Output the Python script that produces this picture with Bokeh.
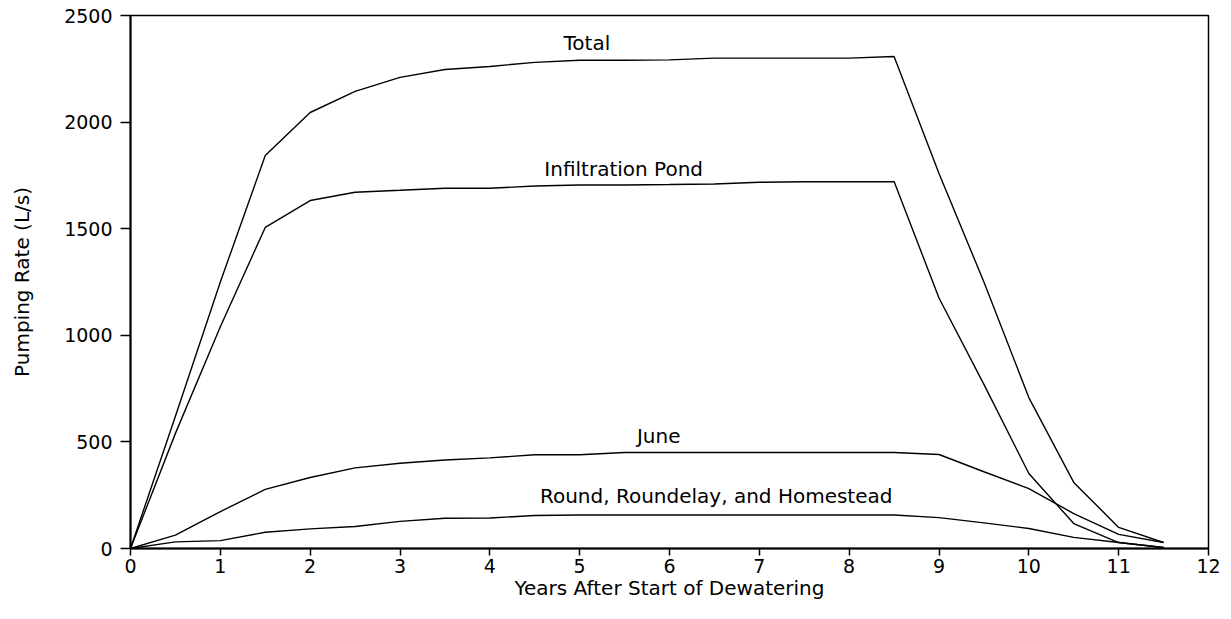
from bokeh.plotting import figure
from bokeh.models import Range1d, FixedTicker, ColumnDataSource
from bokeh.core.properties import value
from bokeh.embed import file_html
from bokeh.resources import INLINE

years = [0, 0.5, 1, 1.5, 2, 2.5, 3, 3.5, 4, 4.5, 5, 5.5, 6, 6.5, 7, 7.5, 8, 8.5,
         9, 9.5, 10, 10.5, 11, 11.5]
total = [0, 620, 1250, 1843, 2045, 2144, 2210, 2247, 2261, 2280, 2290, 2290, 2292,
         2300, 2300, 2300, 2300, 2308, 1759, 1250, 708, 310, 99, 28]
infiltration = [0, 540, 1040, 1506, 1632, 1671, 1680, 1690, 1690, 1700, 1705, 1705,
                1707, 1710, 1718, 1720, 1720, 1721, 1175, 770, 352, 117, 28, 5]
june = [0, 63, 173, 277, 333, 378, 400, 415, 425, 440, 440, 450, 450, 450, 450, 450,
        450, 450, 441, 360, 281, 164, 66, 28]
round_etc = [0, 31, 37, 76, 92, 103, 127, 142, 143, 155, 157, 157, 157, 157, 157, 157,
             157, 157, 145, 120, 94, 52, 28, 5]

label_text = ["Total", "Infiltration Pond", "June", "Round, Roundelay, and Homestead"]
label_x = [5.08, 5.49, 5.88, 6.52]
label_y = [2370, 1778, 528, 246]

x_ticks = list(range(0, 13))
y_ticks = [0, 500, 1000, 1500, 2000, 2500]

FONT = "DejaVu Sans"

p = figure(frame_width=1078, frame_height=533, output_backend="svg",
           toolbar_location=None, x_range=Range1d(0, 12), y_range=Range1d(0, 2500),
           min_border_left=130, min_border_top=15, min_border_right=15,
           min_border_bottom=50)
p.grid.visible = False
p.outline_line_color = "black"
p.outline_line_width = 1.5
p.background_fill_color = "white"
p.border_fill_color = "white"

for ys in (total, infiltration, june, round_etc):
    p.line(years, ys, line_color="black", line_width=1.4)

src = ColumnDataSource(dict(x=label_x, y=label_y, t=label_text))
p.text(x="x", y="y", text="t", source=src, text_align="center",
       text_baseline="alphabetic", text_font=value(FONT),
       text_font_size="20px", text_color="black")

for ax in (p.xaxis[0], p.yaxis[0]):
    ax.axis_line_color = "black"
    ax.axis_line_width = 2
    ax.major_tick_line_color = "black"
    ax.major_tick_line_width = 1.5
    ax.major_tick_in = 0
    ax.minor_tick_line_color = None
    ax.major_label_text_font = FONT
    ax.major_label_text_font_size = "19px"
    ax.major_label_text_color = "black"
    ax.axis_label_text_font = FONT
    ax.axis_label_text_font_style = "normal"
    ax.axis_label_text_color = "black"

p.xaxis.ticker = FixedTicker(ticks=x_ticks)
p.yaxis.ticker = FixedTicker(ticks=y_ticks)
p.xaxis.major_tick_out = 7
p.yaxis.major_tick_out = 10
p.xaxis.major_label_standoff = 3
p.yaxis.major_label_standoff = 8
p.xaxis.axis_label = "Years After Start of Dewatering"
p.yaxis.axis_label = "Pumping Rate (L/s)"
p.xaxis.axis_label_text_font_size = "20px"
p.yaxis.axis_label_text_font_size = "20px"
p.xaxis.axis_label_standoff = 0
p.yaxis.axis_label_standoff = 27

open("out.html", "w").write(file_html(p, INLINE))
